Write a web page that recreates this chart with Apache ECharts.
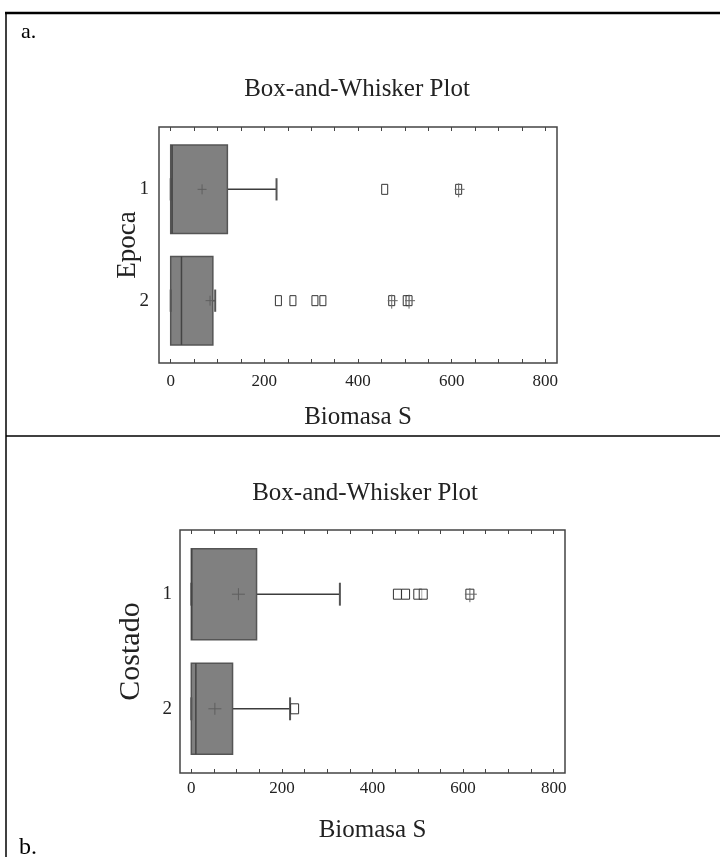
<!DOCTYPE html>
<html>
<head>
<meta charset="utf-8">
<script src="https://cdn.jsdelivr.net/npm/echarts@6/dist/echarts.min.js"></script>
<style>
  html, body { margin: 0; padding: 0; background: #fff; }
  #chart { width: 720px; height: 857px; }
</style>
</head>
<body>
<div id="chart"></div>
<script>
// ---- data: panel a (Epoca) ----
const epocaCategories = ['1', '2'];
const epocaMin    = [0, 0];
const epocaQ1     = [0, 0];
const epocaMedian = [3, 23];
const epocaQ3     = [121, 90];
const epocaMax    = [226, 95];
const epocaMean   = [67, 84];
const epocaOutliers    = [[457], [230, 261, 308, 325, 503]];
const epocaFarOutliers = [[615], [472, 509]];

// ---- data: panel b (Costado) ----
const costadoCategories = ['1', '2'];
const costadoMin    = [0, 0];
const costadoQ1     = [0, 0];
const costadoMedian = [1, 10];
const costadoQ3     = [144, 91];
const costadoMax    = [328, 218];
const costadoMean   = [104, 52];
const costadoOutliers    = [[455, 473, 500, 512], [228]];
const costadoFarOutliers = [[615], []];

// ---- axis ticks ----
const xTickValues  = [0, 50, 100, 150, 200, 250, 300, 350, 400, 450, 500, 550, 600, 650, 700, 750, 800];
const xLabelValues = [0, 200, 400, 600, 800];
const titleText = 'Box-and-Whisker Plot';
const xAxisTitle = 'Biomasa S';

const FONT = '"Liberation Serif", "Times New Roman", serif';
const BOX_SPAN = 0.795;   // box thickness in category units
const CAP_SPAN = 0.2;     // whisker cap length in category units

function boxData(min, q1, med, q3, max, mean) {
  return min.map((_, i) => [i + 1, min[i], q1[i], med[i], q3[i], max[i], mean[i]]);
}
function outlierData(normal, far) {
  const out = [];
  normal.forEach((arr, i) => arr.forEach(v => out.push([v, i + 1, 0])));
  far.forEach((arr, i) => arr.forEach(v => out.push([v, i + 1, 1])));
  return out;
}

function boxRenderer(plus) {
  return function (params, api) {
    const yv = api.value(0);
    const xs = [1, 2, 3, 4, 5, 6].map(k => api.coord([api.value(k), yv])[0]);
    const [xMin, xQ1, xMed, xQ3, xMax, xMean] = xs;
    const yc = api.coord([0, yv])[1];
    const bh = api.size([0, BOX_SPAN])[1];
    const ch = api.size([0, CAP_SPAN])[1];
    const line = (x1, y1, x2, y2, stroke, w) => ({
      type: 'line', shape: { x1, y1, x2, y2 }, style: { stroke, lineWidth: w }
    });
    return {
      type: 'group',
      children: [
        line(xQ3, yc, xMax, yc, '#3c3c3c', 1.5),
        line(xMin, yc, xQ1, yc, '#3c3c3c', 1.5),
        line(xMax, yc - ch / 2, xMax, yc + ch / 2, '#555', 2),
        {
          type: 'rect',
          shape: { x: xQ1, y: yc - bh / 2, width: xQ3 - xQ1, height: bh },
          style: { fill: '#808080', stroke: '#555', lineWidth: 1.5 }
        },
        line(xMin, yc - ch / 2, xMin, yc + ch / 2, '#555', 2),
        line(xMed, yc - bh / 2, xMed, yc + bh / 2, '#444', 1.5),
        line(xMean - plus[0] / 2, yc, xMean + plus[0] / 2, yc, '#5e5e5e', 1),
        line(xMean, yc - plus[1] / 2, xMean, yc + plus[1] / 2, '#5e5e5e', 1)
      ]
    };
  };
}

function outlierRenderer(w, h) {
  return function (params, api) {
    const p = api.coord([api.value(0), api.value(1)]);
    const far = api.value(2) === 1;
    const children = [{
      type: 'rect',
      shape: { x: p[0] - w / 2, y: p[1] - h / 2, width: w, height: h },
      style: { fill: 'rgba(255,255,255,0.6)', stroke: '#333', lineWidth: 1 }
    }];
    if (far) {
      children.push({ type: 'line', shape: { x1: p[0] - w / 2 - 1, y1: p[1], x2: p[0] + w / 2 + 3, y2: p[1] },
                      style: { stroke: '#666', lineWidth: 1 } });
      children.push({ type: 'line', shape: { x1: p[0], y1: p[1] - h / 2 - 1, x2: p[0], y2: p[1] + h / 2 + 3 },
                      style: { stroke: '#666', lineWidth: 1 } });
    }
    return { type: 'group', children };
  };
}

function valueXAxis(gridIndex, position, showLabels, labelMargin, nameGap) {
  return {
    type: 'value', gridIndex, position,
    min: -25, max: 825,
    axisLine: { show: false },
    splitLine: { show: false },
    axisTick: { show: true, inside: true, length: 4, customValues: xTickValues,
                lineStyle: { color: '#444', width: 1 } },
    axisLabel: { show: showLabels, customValues: xLabelValues, margin: labelMargin,
                 fontFamily: FONT, fontSize: 17, color: '#222' },
    name: showLabels ? xAxisTitle : '',
    nameLocation: 'middle', nameGap, nameMoveOverlap: false,
    nameTextStyle: { fontFamily: FONT, fontSize: 25, color: '#222' }
  };
}

function catYAxis(gridIndex, cats, name, labelMargin, nameGap, nameSize) {
  return {
    type: 'value', gridIndex, inverse: true,
    min: 0.44, max: 2.56,
    axisLine: { show: false }, axisTick: { show: false }, splitLine: { show: false },
    axisLabel: { customValues: cats.map((_, i) => i + 1), formatter: v => cats[v - 1] || '',
                 margin: labelMargin, fontFamily: FONT, fontSize: 19, color: '#222' },
    name, nameLocation: 'middle', nameGap, nameRotate: 90, nameMoveOverlap: false,
    nameTextStyle: { fontFamily: FONT, fontSize: nameSize, color: '#222' }
  };
}

const chart = echarts.init(document.getElementById('chart'), null, { renderer: 'canvas' });

const option = {
  animation: false,
  backgroundColor: '#fff',
  grid: [
    { left: 159, top: 127, width: 398, height: 236, show: true, borderColor: '#444', borderWidth: 1.5 },
    { left: 180, top: 530, width: 385, height: 243, show: true, borderColor: '#444', borderWidth: 1.5 }
  ],
  xAxis: [
    valueXAxis(0, 'bottom', true, 10, 42),
    valueXAxis(0, 'top', false, 10, 0),
    valueXAxis(1, 'bottom', true, 7, 45),
    valueXAxis(1, 'top', false, 7, 0)
  ],
  yAxis: [
    catYAxis(0, epocaCategories, 'Epoca', 10, 18, 27),
    catYAxis(1, costadoCategories, 'Costado', 8, 34, 30)
  ],
  graphic: [
    { type: 'line', shape: { x1: 5, y1: 13, x2: 720, y2: 13 }, style: { stroke: '#000', lineWidth: 2.5 } },
    { type: 'line', shape: { x1: 6, y1: 13, x2: 6, y2: 857 }, style: { stroke: '#000', lineWidth: 1.5 } },
    { type: 'line', shape: { x1: 6, y1: 436, x2: 720, y2: 436 }, style: { stroke: '#000', lineWidth: 1.5 } },
    { type: 'text', x: 21, y: 32, style: { text: 'a.', fontFamily: FONT, fontSize: 22, fill: '#000',
      textVerticalAlign: 'middle' } },
    { type: 'text', x: 19, y: 848, style: { text: 'b.', fontFamily: FONT, fontSize: 24, fill: '#000',
      textVerticalAlign: 'middle' } },
    { type: 'text', x: 357, y: 89, style: { text: titleText, fontFamily: FONT, fontSize: 25, fill: '#222',
      textAlign: 'center', textVerticalAlign: 'middle' } },
    { type: 'text', x: 365, y: 493, style: { text: titleText, fontFamily: FONT, fontSize: 25, fill: '#222',
      textAlign: 'center', textVerticalAlign: 'middle' } }
  ],
  series: [
    {
      type: 'custom', name: 'Epoca', xAxisIndex: 0, yAxisIndex: 0,
      renderItem: boxRenderer([9, 10]),
      encode: { x: [1, 2, 3, 4, 5, 6], y: 0 },
      data: boxData(epocaMin, epocaQ1, epocaMedian, epocaQ3, epocaMax, epocaMean)
    },
    {
      type: 'custom', name: 'Epoca outliers', xAxisIndex: 0, yAxisIndex: 0,
      renderItem: outlierRenderer(6, 10),
      encode: { x: 0, y: 1 },
      data: outlierData(epocaOutliers, epocaFarOutliers)
    },
    {
      type: 'custom', name: 'Costado', xAxisIndex: 2, yAxisIndex: 1,
      renderItem: boxRenderer([13, 12]),
      encode: { x: [1, 2, 3, 4, 5, 6], y: 0 },
      data: boxData(costadoMin, costadoQ1, costadoMedian, costadoQ3, costadoMax, costadoMean)
    },
    {
      type: 'custom', name: 'Costado outliers', xAxisIndex: 2, yAxisIndex: 1,
      renderItem: outlierRenderer(8, 10),
      encode: { x: 0, y: 1 },
      data: outlierData(costadoOutliers, costadoFarOutliers)
    }
  ]
};
chart.setOption(option);
</script>
</body>
</html>
